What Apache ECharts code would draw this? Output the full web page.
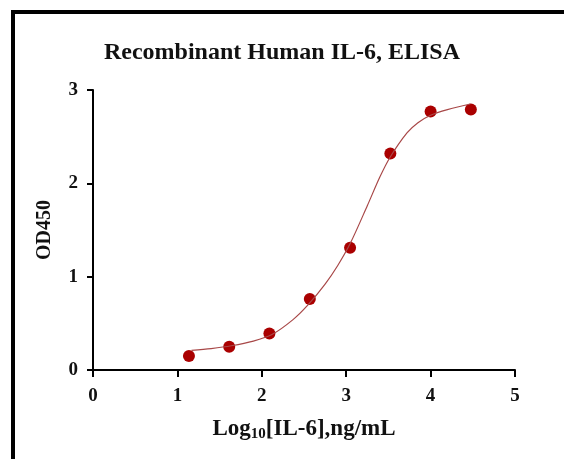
<!DOCTYPE html>
<html>
<head>
<meta charset="utf-8">
<script src="https://cdn.jsdelivr.net/npm/echarts@6/dist/echarts.min.js"></script>
<style>
  html, body { margin: 0; padding: 0; background: #fff; }
  #chart { width: 564px; height: 459px; }
</style>
</head>
<body>
<div id="chart"></div>
<script>
// measured points: log10 concentration vs OD450
const logConc = [1.137, 1.614, 2.09, 2.569, 3.046, 3.523, 4.0, 4.477]
const od450 = [0.15, 0.25, 0.39, 0.76, 1.31, 2.32, 2.77, 2.79]

// fitted curve
const fitX = [1.167, 1.4, 1.64, 1.9, 2.12, 2.37, 2.55, 2.75, 2.9, 3.05, 3.25, 3.4, 3.52, 3.72, 3.85, 4.0, 4.2, 4.47]
const fitY = [0.21, 0.23, 0.26, 0.31, 0.38, 0.54, 0.70, 0.92, 1.12, 1.36, 1.76, 2.07, 2.28, 2.54, 2.65, 2.73, 2.79, 2.85]

const xTicks = [0, 1, 2, 3, 4, 5]
const yTicks = [0, 1, 2, 3]

const FONT = "'Liberation Serif', 'Times New Roman', serif"
const RED = '#aa0000'

const chart = echarts.init(document.getElementById('chart'))

chart.setOption({
  backgroundColor: '#fff',
  animation: false,
  title: {
    text: 'Recombinant Human IL-6, ELISA',
    left: 'center', top: 36,
    textStyle: { fontFamily: FONT, fontWeight: 'bold', fontSize: 24, color: '#111' },
  },
  graphic: [
    { type: 'rect', shape: { x: 11, y: 10, width: 560, height: 4 }, style: { fill: '#000' } },
    { type: 'rect', shape: { x: 11, y: 10, width: 4, height: 460 }, style: { fill: '#000' } },
  ],
  grid: { left: 93, right: 49, top: 90, bottom: 89 },
  xAxis: {
    type: 'value', min: xTicks[0], max: xTicks[xTicks.length - 1], interval: 1,
    name: '{a|Log}{s|10}{a|[IL-6],ng/mL}',
    nameLocation: 'middle', nameGap: 47,
    nameTextStyle: {
      rich: {
        a: { fontFamily: FONT, fontWeight: 'bold', fontSize: 23, color: '#111' },
        s: { fontFamily: FONT, fontWeight: 'bold', fontSize: 15, color: '#111', verticalAlign: 'bottom', padding: [10, 0, 0, 0] },
      },
    },
    axisLine: { onZero: false, lineStyle: { color: '#000', width: 2 } },
    axisTick: { show: true, length: 7, lineStyle: { color: '#000', width: 2 } },
    axisLabel: { margin: 17, fontFamily: FONT, fontWeight: 'bold', fontSize: 19, color: '#111' },
    splitLine: { show: false },
  },
  yAxis: {
    type: 'value', min: yTicks[0], max: yTicks[yTicks.length - 1], interval: 1,
    name: 'OD450', nameLocation: 'middle', nameGap: 38,
    nameTextStyle: { fontFamily: FONT, fontWeight: 'bold', fontSize: 20, color: '#111' },
    axisLine: { show: true, onZero: false, lineStyle: { color: '#000', width: 2 } },
    axisTick: { show: true, length: 6, lineStyle: { color: '#000', width: 2 } },
    axisLabel: { margin: 15, fontFamily: FONT, fontWeight: 'bold', fontSize: 19, color: '#111' },
    splitLine: { show: false },
  },
  series: [
    {
      type: 'line', data: fitX.map((x, i) => [x, fitY[i]]),
      smooth: 0.3, showSymbol: false, silent: true,
      lineStyle: { color: '#a84848', width: 1.2 },
    },
    {
      type: 'scatter', data: logConc.map((x, i) => [x, od450[i]]),
      symbolSize: 12, itemStyle: { color: RED, opacity: 1 },
    },
  ],
})
</script>
</body>
</html>
